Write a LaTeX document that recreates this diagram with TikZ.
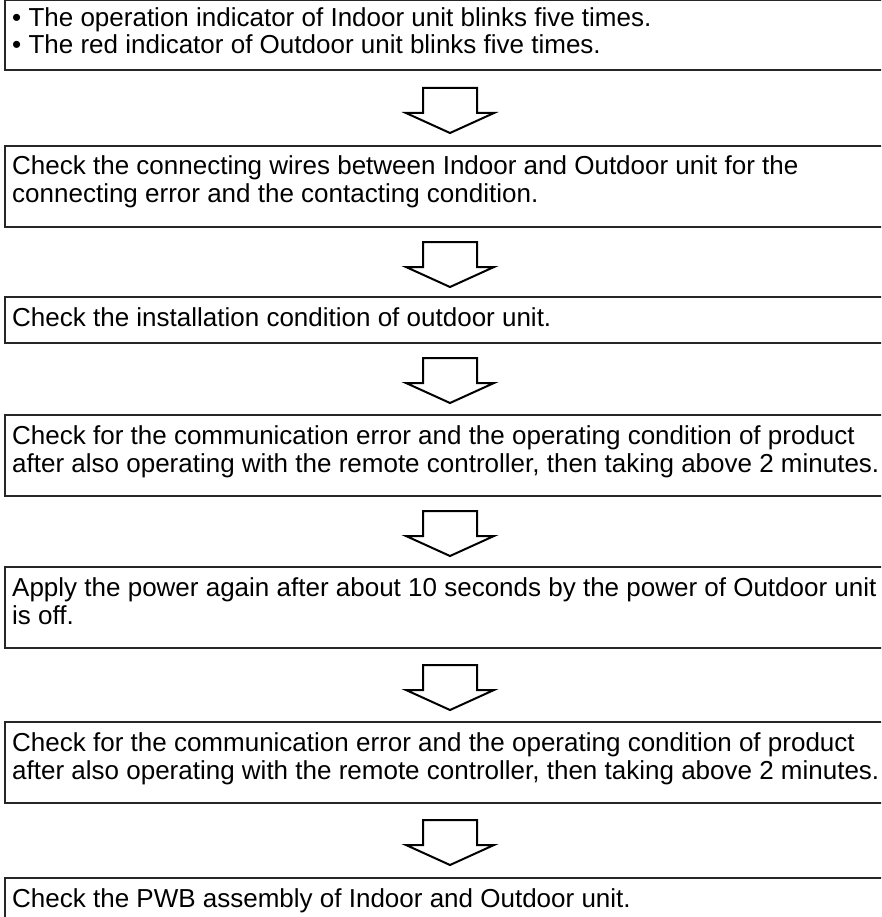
\documentclass[tikz,border=0pt]{standalone}
\usepackage{fontspec}
\setmainfont{Liberation Sans}
\begin{document}
\begin{tikzpicture}[x=1pt,y=-1pt]
\tikzset{
  stepbox/.style={draw=black!85, line width=1.3pt},
  txt/.style={anchor=base west, inner sep=0pt, font=\fontsize{26}{30}\selectfont},
  barrow/.style={draw=black, line width=2pt, line join=miter},
  downarr/.pic={\draw[barrow] (-27,0) -- (27,0) -- (27,25) -- (44,25) -- (0,45) -- (-44,25) -- (-27,25) -- cycle;}
}
\useasboundingbox (0,0) rectangle (881,917);
\clip (0,0) rectangle (881,917);
% box 1
\draw[stepbox] (5,0.6) rectangle (895,70);
\node[txt] (b1a) at (12,27) {• The operation indicator of Indoor unit blinks five times.};
\node[txt] (b1b) at (12,54) {• The red indicator of Outdoor unit blinks five times.};
\pic at (450,88) {downarr};
% box 2
\draw[stepbox] (5,146) rectangle (895,227);
\node[txt] (b2a) at (12,175) {Check the connecting wires between Indoor and Outdoor unit for the};
\node[txt] (b2b) at (12,203) {connecting error and the contacting condition.};
\pic at (450,242) {downarr};
% box 3
\draw[stepbox] (5,297) rectangle (895,343);
\node[txt] (b3a) at (12,326) {Check the installation condition of outdoor unit.};
\pic at (450,358) {downarr};
% box 4
\draw[stepbox] (5,415) rectangle (895,496);
\node[txt] (b4a) at (12,444) {Check for the communication error and the operating condition of product};
\node[txt] (b4b) at (12,472) {after also operating with the remote controller, then taking above 2 minutes.};
\pic at (450,511) {downarr};
% box 5
\draw[stepbox] (5,567) rectangle (895,648);
\node[txt] (b5a) at (12,596) {Apply the power again after about 10 seconds by the power of Outdoor unit};
\node[txt] (b5b) at (12,624) {is off.};
\pic at (450,665) {downarr};
% box 6
\draw[stepbox] (5,722) rectangle (895,803);
\node[txt] (b6a) at (12,751) {Check for the communication error and the operating condition of product};
\node[txt] (b6b) at (12,779) {after also operating with the remote controller, then taking above 2 minutes.};
\pic at (450,820) {downarr};
% box 7
\draw[stepbox] (5,878) rectangle (895,930);
\node[txt] (b7a) at (12,907) {Check the PWB assembly of Indoor and Outdoor unit.};
\end{tikzpicture}
\end{document}
